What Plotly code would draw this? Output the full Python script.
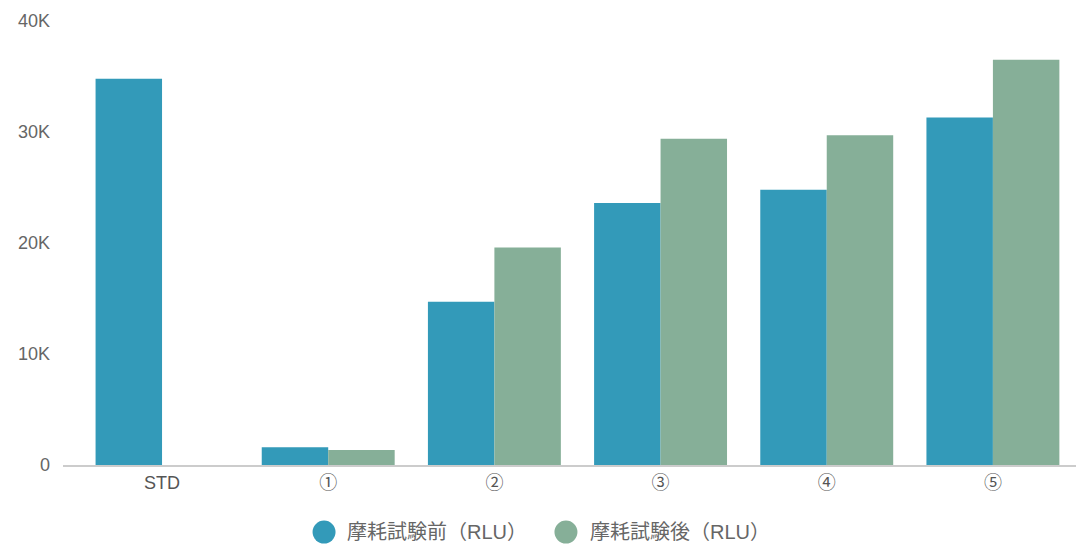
import plotly.graph_objects as go

categories = ["STD", "①", "②", "③", "④", "⑤"]
before = [34800, 1600, 14700, 23600, 24800, 31300]
after = [None, 1350, 19600, 29400, 29700, 36500]
series_names = ["摩耗試験前（RLU）", "摩耗試験後（RLU）"]
colors = ["#339AB9", "#86AF98"]
yticks = [0, 10000, 20000, 30000, 40000]
yticklabels = ["0", "10K", "20K", "30K", "40K"]

font_family = "'Liberation Sans', 'Noto Sans CJK JP', sans-serif"

fig = go.Figure()
for name, vals, c in zip(series_names, [before, after], colors):
    fig.add_trace(go.Bar(x=categories, y=vals, name=name, marker=dict(color=c, line=dict(width=0)),
                         showlegend=False))

# custom legend (large circle markers)
legend_circle_x = [0.2577, 0.4965]
legend_text_x = [0.2784, 0.5183]
legend_y = -0.151
for cx, tx, name, c in zip(legend_circle_x, legend_text_x, series_names, colors):
    fig.add_shape(type="circle", xref="paper", yref="paper", xsizemode="pixel", ysizemode="pixel",
                  xanchor=cx, yanchor=legend_y, x0=-11.5, x1=11.5, y0=-11.5, y1=11.5,
                  fillcolor=c, line=dict(width=0))
    fig.add_annotation(x=tx, y=legend_y, xref="paper", yref="paper", text=name, showarrow=False,
                       xanchor="left", yanchor="middle", font=dict(size=20, color="#666666"))

fig.update_layout(
    width=1086, height=544,
    margin=dict(l=63, r=10, t=21, b=79, autoexpand=False),
    plot_bgcolor="white", paper_bgcolor="white",
    barmode="group", bargap=0.2, bargroupgap=0,
    showlegend=False,
    font=dict(family=font_family, size=18, color="#666666"),
    xaxis=dict(range=[-0.596, 5.5], showline=True, linecolor="#cccccc", linewidth=1.5,
               ticks="", showgrid=False, ticklabelstandoff=1,
               tickfont=dict(size=18, color="#555555")),
    yaxis=dict(range=[0, 40000], tickvals=yticks, ticktext=yticklabels, showgrid=False,
               zeroline=False, showline=False, ticks="", ticklabelstandoff=12,
               tickfont=dict(size=18, color="#666666")),
)

fig.write_html("out.html")
